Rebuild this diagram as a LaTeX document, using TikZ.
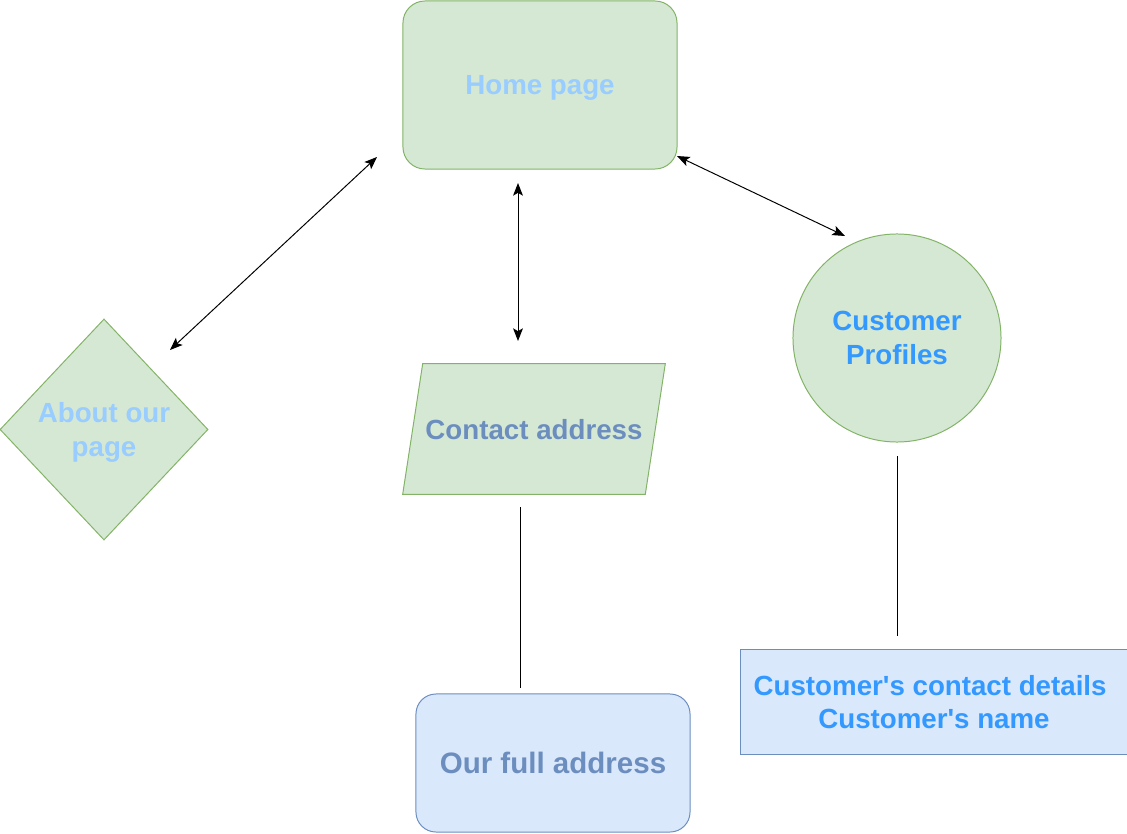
\documentclass[tikz,border=0pt]{standalone}
\usepackage{fontspec}
\setmainfont{Liberation Sans}
\usetikzlibrary{%
  arrows.meta,%
  backgrounds,%
  shapes.geometric,%
  positioning%
}
\definecolor{greenfill}{HTML}{D5E8D4}
\definecolor{greenline}{HTML}{82B366}
\definecolor{bluefill}{HTML}{DAE8FC}
\definecolor{blueline}{HTML}{6C8EBF}
\definecolor{palelabel}{HTML}{99CCFF}
\definecolor{duskylabel}{HTML}{6C8EBF}
\definecolor{brightlabel}{HTML}{3399FF}
\tikzset{>={Stealth[length=9pt,width=7pt,inset=2pt]},
    pagefill/.style = {draw=greenline, fill=greenfill, line width=0.7pt},%
    pagetext/.style = {align=center, inner sep=0pt, text depth=0pt,
      font=\bfseries\fontsize{19.7pt}{23.8pt}\selectfont},%
    pagebox/.style = {pagefill, pagetext},%
    infobox/.style = {pagebox, draw=blueline, fill=bluefill},%
    link/.style = {line width=0.7pt}}

\begin{document}
\begin{tikzpicture}[x=0.025cm,y=-0.025cm]
          \useasboundingbox (0,0) rectangle (1127,834);
          \node[pagebox,rounded corners=0.55cm,minimum width=6.85cm,minimum height=4.2cm,
            text=palelabel] (home) at (540,85) {Home page};
          \node[pagebox,diamond,minimum width=5.2cm,minimum height=5.525cm,
            text=palelabel] (about) at (104,429.5) {About our\\page};
          \node[pagetext,minimum width=6.05cm,minimum height=3.25cm,
            text=duskylabel] (contact) at (534,429) {Contact address};
          \begin{pgfonlayer}{background}
            \draw[pagefill] ([xshift=0.25cm]contact.north west)
              -- ([xshift=0.25cm]contact.north east)
              -- ([xshift=-0.25cm]contact.south east)
              -- ([xshift=-0.25cm]contact.south west) -- cycle;
          \end{pgfonlayer}
          \node[pagebox,circle,minimum size=5.2cm,text=brightlabel] (profiles)
            at (897,338) {Customer\\Profiles};
          \node[infobox,rounded corners=0.5cm,minimum width=6.85cm,minimum height=3.45cm,
            text=duskylabel,font=\bfseries\fontsize{21pt}{25pt}\selectfont]
            (fulladdr) at (553,763) {Our full address};
          \node[infobox,minimum width=9.65cm,minimum height=2.6cm,text=brightlabel]
            (details) at (934,702)
            {Customer\textquotesingle s contact details\kern0.28em\\Customer\textquotesingle s name};
          % free ends of the connectors
          \coordinate (homeA) at (377,157);
          \coordinate (aboutA) at (170,350);
          \coordinate (homeB) at (518,183);
          \coordinate (contactB) at (518,341);
          \coordinate (homeC) at (677,156);
          \coordinate (profilesC) at (845,236);
          \coordinate (contactD) at (520,507);
          \coordinate (fulladdrD) at (520,688);
          \coordinate (profilesE) at (897,456);
          \coordinate (detailsE) at (897,636);
          \draw[link,<->] (homeA) -- (aboutA);
          \draw[link,<->] (homeB) -- (contactB);
          \draw[link,<->] (homeC) -- (profilesC);
          \draw[link] (contactD) -- (fulladdrD);
          \draw[link] (profilesE) -- (detailsE);
        \end{tikzpicture}
\end{document}
